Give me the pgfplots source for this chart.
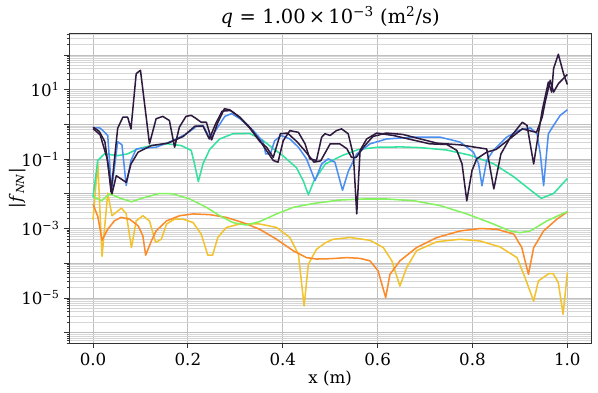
\documentclass[border=0pt]{standalone}
\usepackage{fontspec}
\setmainfont{DejaVu Serif}
\usepackage{pgfplots}
\pgfplotsset{compat=1.18}

\definecolor{cPurple}{HTML}{2E1A3F}
\definecolor{cBlue}{HTML}{4A8EF2}
\definecolor{cTeal}{HTML}{33E29E}
\definecolor{cGreen}{HTML}{84F25E}
\definecolor{cYellow}{HTML}{F2C32E}
\definecolor{cOrange}{HTML}{FB8A2B}

\begin{document}
\begin{tikzpicture}
\begin{axis}[
    scale only axis,
    width=375.6pt, height=223.2pt,
    xmin=-0.05, xmax=1.05,
    ymode=log, ymin=5e-7, ymax=4.27e2,
    xtick={0,0.2,0.4,0.6,0.8,1},
    xticklabels={0.0,0.2,0.4,0.6,0.8,1.0},
    ytick={1e-6,1e-5,1e-4,1e-3,1e-2,1e-1,1,1e1,1e2},
    yticklabels={,10\textsuperscript{−5},,10\textsuperscript{−3},,10\textsuperscript{−1},,10\textsuperscript{1},},
    minor ytick={2e-7,3e-7,4e-7,5e-7,6e-7,7e-7,8e-7,9e-7,
                 2e-6,3e-6,4e-6,5e-6,6e-6,7e-6,8e-6,9e-6,
                 2e-5,3e-5,4e-5,5e-5,6e-5,7e-5,8e-5,9e-5,
                 2e-4,3e-4,4e-4,5e-4,6e-4,7e-4,8e-4,9e-4,
                 2e-3,3e-3,4e-3,5e-3,6e-3,7e-3,8e-3,9e-3,
                 2e-2,3e-2,4e-2,5e-2,6e-2,7e-2,8e-2,9e-2,
                 0.2,0.3,0.4,0.5,0.6,0.7,0.8,0.9,
                 2,3,4,5,6,7,8,9,
                 20,30,40,50,60,70,80,90,200,300,400},
    tick pos=left, tick align=outside,
    major tick length=3.5pt, minor tick length=2pt,
    xmajorgrids, ymajorgrids, yminorgrids,
    major grid style={gray!50, line width=0.6pt},
    minor grid style={gray!32, line width=0.5pt},
    axis line style={black!80, line width=0.6pt},
    every tick/.style={black!80, line width=0.6pt},
    tick label style={font=\fontsize{12}{14}\selectfont},
    label style={font=\fontsize{12}{14}\selectfont},
    every axis title/.style={font=\fontsize{14}{17}\selectfont, at={(axis description cs:0.5,1.052)}, anchor=center},
    title={\textit{q}\,\,=\,\,1.00\,×\,10\textsuperscript{−3} (m\textsuperscript{2}/s)},
    xlabel={x (m)},
    ylabel={|\textit{f}\textsubscript{\textit{NN}}|},
    xlabel style={at={(axis description cs:0.5,-0.115)}, anchor=center},
    ylabel style={at={(axis description cs:-0.1,0.5)}, anchor=center},
    every axis plot/.append style={line width=1.1pt, line join=round, mark=none},
]
% yellow
\addplot[cYellow] coordinates {
(0,1.78e-3) (0.01,7.94e-2) (0.019,1.58e-4) (0.031,1.05e-2) (0.04,2.34e-3) (0.06,3.89e-3)
(0.07,2.63e-3) (0.081,2.82e-4) (0.091,1.66e-3) (0.105,2.34e-3) (0.119,1.66e-3) (0.132,3.98e-4)
(0.144,4.9e-4) (0.155,1.35e-3) (0.172,1.86e-3) (0.19,1.86e-3) (0.211,1.48e-3) (0.228,6.92e-4)
(0.242,1.7e-4) (0.252,1.7e-4) (0.263,5.5e-4) (0.281,1.07e-3) (0.309,1.35e-3) (0.351,1.35e-3)
(0.387,1.07e-3) (0.415,5.5e-4) (0.433,1.82e-4) (0.445,5.89e-6) (0.454,9.33e-5) (0.471,2.51e-4)
(0.49,3.9e-4) (0.506,4.9e-4) (0.542,5.5e-4) (0.584,4.57e-4) (0.612,2.82e-4) (0.63,1.17e-4)
(0.647,2.19e-5) (0.661,7.41e-5) (0.682,2.29e-4) (0.725,4.17e-4) (0.774,4.9e-4) (0.816,4.37e-4)
(0.858,2.95e-4) (0.894,1.45e-4) (0.911,3.8e-5) (0.929,8.13e-6) (0.939,3.09e-5) (0.961,5.01e-5)
(0.97,5.01e-5) (0.981,2.75e-5) (0.991,3.39e-6) (1.0,5.37e-5)
};
% orange
\addplot[cOrange] coordinates {
(0,5.01e-3) (0.01,2.24e-3) (0.019,4.57e-4) (0.031,9.55e-4) (0.045,1.66e-3) (0.059,2.09e-3)
(0.077,1.86e-3) (0.095,1.2e-3) (0.105,6.17e-4) (0.111,1.7e-4) (0.123,4.37e-4) (0.133,8.51e-4)
(0.155,1.66e-3) (0.183,2.34e-3) (0.211,2.63e-3) (0.246,2.51e-3) (0.281,2.09e-3) (0.316,1.48e-3)
(0.351,9.55e-4) (0.387,4.9e-4) (0.422,2.29e-4) (0.45,1.45e-4) (0.471,1.32e-4) (0.5,1.35e-4)
(0.535,1.45e-4) (0.563,1.38e-4) (0.584,1.17e-4) (0.601,6.03e-5) (0.617,1.02e-5) (0.626,4.79e-5)
(0.647,1.17e-4) (0.682,2.82e-4) (0.725,5.5e-4) (0.774,8.51e-4) (0.816,1.0e-3) (0.851,9.55e-4)
(0.887,6.92e-4) (0.904,2.82e-4) (0.918,4.79e-5) (0.929,2.82e-4) (0.95,8.51e-4) (0.978,1.86e-3)
(1.0,3.02e-3)
};
% green
\addplot[cGreen] coordinates {
(0,8.32e-3) (0.018,6.31e-3) (0.035,1.0e-2) (0.056,7.59e-3) (0.081,5.89e-3) (0.105,7.59e-3)
(0.14,1.02e-2) (0.168,1.0e-2) (0.204,7.08e-3) (0.239,4.07e-3) (0.267,2.34e-3) (0.295,1.48e-3)
(0.323,1.26e-3) (0.351,1.58e-3) (0.387,2.63e-3) (0.422,4.07e-3) (0.464,5.25e-3) (0.52,6.61e-3)
(0.57,7.08e-3) (0.619,7.08e-3) (0.676,6.31e-3) (0.732,4.57e-3) (0.788,2.63e-3) (0.844,1.35e-3)
(0.879,8.51e-4) (0.9,7.59e-4) (0.922,8.51e-4) (0.957,1.66e-3) (1.0,3.09e-3)
};
% teal
\addplot[cTeal] coordinates {
(0,7.94e-3) (0.01,9.12e-2) (0.024,1.41e-1) (0.052,1.26e-1) (0.073,1.41e-1) (0.095,2.0e-1)
(0.123,2.45e-1) (0.158,2.75e-1) (0.186,2.45e-1) (0.207,1.78e-1) (0.214,7.24e-2) (0.222,2.24e-2)
(0.232,7.41e-2) (0.246,1.9e-1) (0.267,3.8e-1) (0.295,5.37e-1) (0.33,5.5e-1) (0.357,3.55e-1)
(0.38,2.0e-1) (0.4,1.26e-1) (0.429,5.62e-2) (0.444,2.24e-2) (0.454,9.33e-3) (0.466,2.4e-2)
(0.49,7.24e-2) (0.525,1.26e-1) (0.56,1.9e-1) (0.6,2.19e-1) (0.65,2.24e-1) (0.69,2.14e-1)
(0.746,1.82e-1) (0.795,1.29e-1) (0.844,7.41e-2) (0.887,3.09e-2) (0.922,1.29e-2) (0.945,7.41e-3)
(0.971,1.02e-2) (1.0,2.75e-2)
};
% blue
\addplot[cBlue] coordinates {
(0,7.94e-1) (0.014,7.94e-1) (0.021,6.61e-1) (0.031,4.79e-1) (0.039,1.26e-2) (0.052,3.16e-1)
(0.061,2.57e-1) (0.07,1.74e-2) (0.08,9.12e-2) (0.091,1.95e-1) (0.112,2.09e-1) (0.133,2.19e-1)
(0.168,3.39e-1) (0.197,5.37e-1) (0.218,8.71e-1) (0.232,9.33e-1) (0.247,3.8e-1) (0.263,8.32e-1)
(0.278,1.7) (0.292,2.04) (0.31,1.45) (0.338,6.61e-1) (0.359,3.09e-1) (0.364,1.41e-1)
(0.374,1.41e-1) (0.383,3.39e-1) (0.397,4.79e-1) (0.415,3.8e-1) (0.433,2.19e-1) (0.45,1.02e-1)
(0.468,2.4e-2) (0.482,7.24e-2) (0.496,1.02e-1) (0.51,8.13e-2) (0.526,1.26e-2) (0.538,4.37e-2)
(0.556,1.41e-1) (0.584,2.75e-1) (0.619,3.8e-1) (0.676,4.27e-1) (0.732,4.27e-1) (0.774,3.09e-1)
(0.802,1.58e-1) (0.813,7.24e-2) (0.82,1.7e-2) (0.83,9.12e-2) (0.844,1.78e-1) (0.872,4.27e-1)
(0.9,6.92e-1) (0.922,7.94e-1) (0.936,5.37e-1) (0.943,1.41e-1) (0.95,1.7e-2) (0.96,5.37e-1)
(0.971,9.33e-1) (0.985,1.82) (1.0,2.63)
};
% dark 2
\addplot[cPurple] coordinates {
(0,7.59e-1) (0.015,5.01e-1) (0.03,1.0e-1) (0.04,1.0e-2) (0.049,3.31e-2) (0.059,2.69e-2)
(0.07,2.14e-2) (0.08,7.24e-2) (0.095,1.58e-1) (0.123,2.45e-1) (0.158,2.88e-1) (0.19,4.47e-1)
(0.215,8.91e-1) (0.232,8.91e-1) (0.245,3.8e-1) (0.258,1.0) (0.272,2.4) (0.29,2.51)
(0.31,1.58) (0.33,7.94e-1) (0.352,3.16e-1) (0.366,2.19e-1) (0.38,1.12e-1) (0.395,5.37e-1)
(0.41,5.62e-1) (0.43,3.16e-1) (0.446,1.78e-1) (0.466,8.13e-2) (0.48,8.91e-2) (0.5,2.75e-1)
(0.52,2.75e-1) (0.535,2.0e-1) (0.545,1.12e-1) (0.555,1.12e-1) (0.57,2.19e-1) (0.59,4.47e-1)
(0.618,5.62e-1) (0.653,5.13e-1) (0.69,3.8e-1) (0.725,2.88e-1) (0.774,2.57e-1) (0.83,1.95e-1)
(0.845,1.38e-2) (0.86,1.41e-1) (0.88,4.27e-1) (0.905,1.15) (0.915,9.33e-1) (0.929,7.24e-2)
(0.94,6.61e-1) (0.947,2.51) (0.96,16.6) (0.967,8.51) (0.971,40.7) (0.981,105)
(0.992,28.8) (1.0,14.1)
};
% dark 1
\addplot[cPurple] coordinates {
(0,8.32e-1) (0.013,6.31e-1) (0.025,3.16e-1) (0.032,6.31e-2) (0.038,1.12e-2) (0.052,7.76e-1)
(0.063,1.62) (0.073,1.62) (0.08,7.41e-1) (0.091,28.8) (0.1,36.3) (0.119,2.75e-1)
(0.133,1.45) (0.147,1.7) (0.161,1.29) (0.172,2.19e-1) (0.182,8.32e-1) (0.196,1.7)
(0.207,1.82) (0.218,1.45) (0.228,1.15) (0.239,1.15) (0.25,3.55e-1) (0.263,1.12)
(0.277,2.82) (0.288,2.63) (0.309,1.62) (0.33,8.32e-1) (0.352,3.39e-1) (0.362,2.09e-1)
(0.38,9.12e-2) (0.39,8.13e-2) (0.401,3.39e-1) (0.415,6.61e-1) (0.433,5.89e-1) (0.447,2.75e-1)
(0.457,1.02e-1) (0.471,9.12e-2) (0.482,4.27e-1) (0.489,5.37e-1) (0.5,4.79e-1) (0.513,6.61e-1)
(0.524,7.41e-1) (0.538,5.37e-1) (0.549,1.26e-1) (0.556,2.63e-3) (0.563,1.78e-1) (0.577,3.8e-1)
(0.598,5.62e-1) (0.633,4.79e-1) (0.71,2.75e-1) (0.746,2.63e-1) (0.767,1.78e-1) (0.778,7.24e-2)
(0.788,6.31e-3) (0.799,4.68e-2) (0.809,1.02e-1) (0.83,1.58e-1) (0.85,1.9e-1) (0.88,3.98e-1)
(0.905,7.41e-1) (0.935,5.89e-1) (0.947,1.62) (0.954,4.9) (0.964,18.6) (0.971,8.51)
(0.981,14.8) (1.0,27.5)
};
\end{axis}
\pgfresetboundingbox
\path ([shift={(-49.9pt,-35.3pt)}]current axis.south west) rectangle ([shift={(5pt,23.8pt)}]current axis.north east);
\end{tikzpicture}
\end{document}
